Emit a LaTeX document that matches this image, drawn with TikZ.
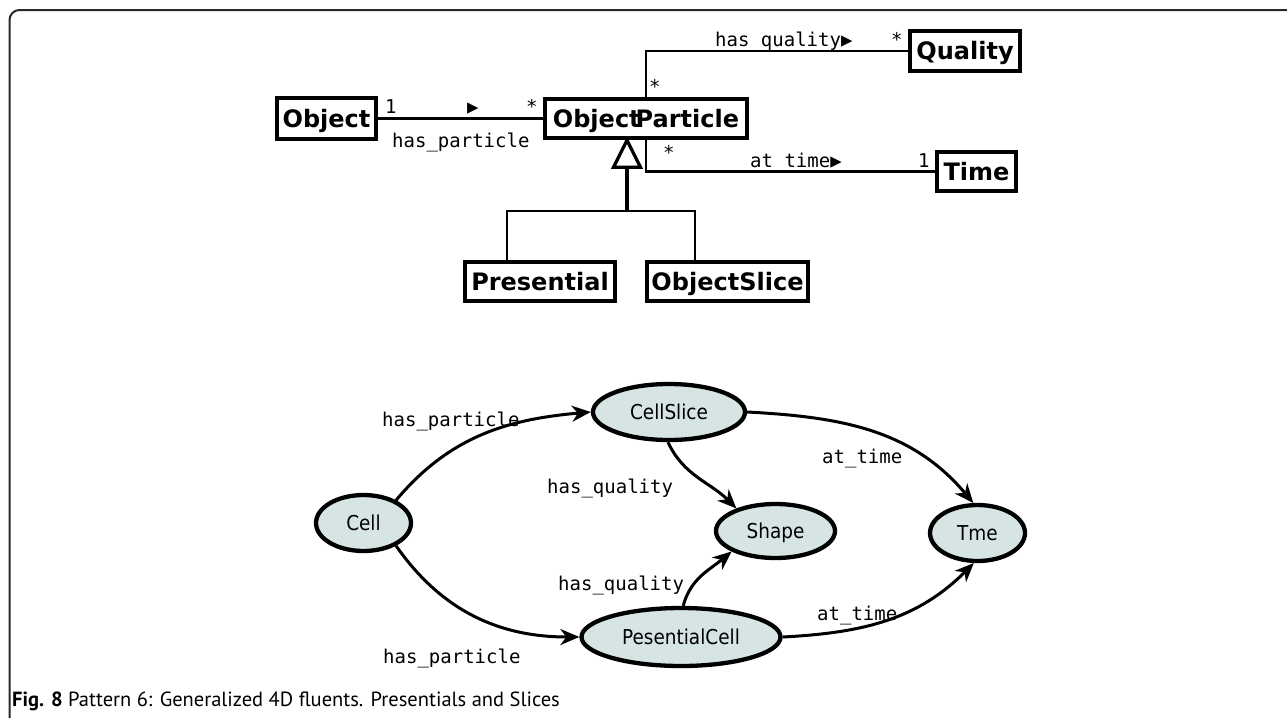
\documentclass[tikz,border=0pt]{standalone}
\usepackage{fontspec}
\setmainfont{DejaVu Sans}
\newfontfamily\monof{DejaVu Sans Mono}
\newfontfamily\ellf[FakeStretch=0.9]{DejaVu Sans}
\newfontfamily\capf{PT Sans}
\usetikzlibrary{arrows.meta,shapes.geometric}
\definecolor{ellfill}{RGB}{214,228,228}
\definecolor{framec}{RGB}{40,40,40}
\begin{document}
\begin{tikzpicture}[x=1pt,y=1pt,
 umlbox/.style={draw, line width=4.5pt, inner sep=0pt, font=\fontsize{24}{24}\selectfont\bfseries, text height=17.5pt, text depth=0pt},
 ell/.style={ellipse, draw, line width=4.3pt, fill=ellfill, inner sep=0pt, font=\ellf\fontsize{20.5}{20.5}\selectfont, text height=15pt, text depth=0pt},
 mono/.style={font=\monof\fontsize{19}{19}\selectfont, inner sep=0pt, anchor=base west},
 assoc/.style={line width=2.8pt},
 arr/.style={line width=3pt, -{Stealth[length=19pt,width=16pt,inset=6pt]}},
 capt/.style={font=\capf\fontsize{20.5}{20.5}\selectfont, inner sep=0pt, anchor=base west}
]
\useasboundingbox (0,0) rectangle (1287,-718);
% frame
\draw[line width=2pt, framec] (9.5,-718) -- (9.5,-20) arc[start angle=180,end angle=90,radius=10] -- (1287,-10);

% UML part
\node[umlbox, minimum width=99, minimum height=41] (obj) at (326.5,-118.5) {Object};
\node[umlbox, minimum width=202, minimum height=39] (op) at (646,-118.5) {Object\kern-5pt Particle};
\node[umlbox, minimum width=110, minimum height=40] (qual) at (965,-51) {Quality};
\node[umlbox, minimum width=79, minimum height=39] (time) at (976.5,-171.5) {Time};
\node[umlbox, minimum width=150, minimum height=39] (pres) at (540,-281.5) {Presential};
\node[umlbox, minimum width=161, minimum height=39] (oslice) at (727.5,-281.5) {ObjectSlice};

\draw[assoc] (obj.east) -- (op.west);
\draw[assoc] (op.north) |- (qual.west);
\draw[assoc] (op.south) |- (time.west);

\coordinate (tip) at ([xshift=-19pt]op.south);
\coordinate (gj) at (627,-211);
\coordinate (pj) at (507,-211);
\coordinate (sj) at (695,-211);
\draw[line width=4.5pt] (gj) -- ([yshift=-27pt]tip);
\draw[line width=3.2pt, fill=white, line join=miter] (tip) -- ++(-13.5,-27) -- ++(27,0) -- cycle;
\draw[assoc] (pres.north -| pj) |- (sj) -- (oslice.north -| sj);

\node[mono] (m1) at (385,-113) {1};
\node[mono] (m2) at (467,-113) {▶};
\node[mono] (m3) at (526,-113) {*};
\node[mono] (m4) at (392,-147) {has\_particle};
\node[mono] (m5) at (715,-46) {has quality▶};
\node[mono] (m6) at (891,-46) {*};
\node[mono] (m7) at (649,-93) {*};
\node[mono] (m8) at (663,-159) {*};
\node[mono] (m9) at (750,-167) {at time▶};
\node[mono] (m10) at (918,-167) {1};

% graph part
\node[ell, minimum width=95, minimum height=56] (cell) at (363.5,-523) {Cell};
\node[ell, minimum width=152, minimum height=56] (cs) at (669,-412) {CellSlice};
\node[ell, minimum width=119, minimum height=54] (shape) at (775.5,-531) {Shape};
\node[ell, minimum width=95, minimum height=56] (tme) at (977.5,-533) {Tme};
\node[ell, minimum width=199, minimum height=58] (pc) at (681,-637) {PesentialCell};

\draw[arr] (cell.35) to[out=50,in=185] (cs.west);
\draw[arr] (cell.-35) to[out=-55,in=180] (pc.west);
\draw[arr] (cs.-92) to[out=-65,in=135] (shape.150);
\draw[arr] (pc.86) to[out=75,in=-140] (shape.205);
\draw[arr] (cs.east) to[out=-3,in=130] (tme.98);
\draw[arr] (pc.east) to[out=3,in=-135] (tme.-97);

\node[mono] (g1) at (382,-426) {has\_particle};
\node[mono] (g2) at (383,-663) {has\_particle};
\node[mono] (g3) at (547,-493) {has\_quality};
\node[mono] (g4) at (558,-590) {has\_quality};
\node[mono] (g5) at (822,-463) {at\_time};
\node[mono] (g6) at (817,-620) {at\_time};

\node[capt] (cap) at (12,-706) {\textbf{Fig. 8} Pattern 6: Generalized 4D fluents. Presentials and Slices};
\end{tikzpicture}
\end{document}
